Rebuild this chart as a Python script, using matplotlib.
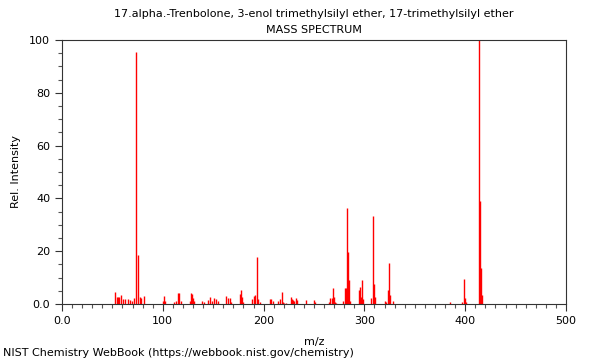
import matplotlib

matplotlib.use("Agg")
import matplotlib.pyplot as plt
from matplotlib.ticker import MultipleLocator, FuncFormatter

TITLE = "17.alpha.-Trenbolone, 3-enol trimethylsilyl ether, 17-trimethylsilyl ether"
FOOTER = "NIST Chemistry WebBook (https://webbook.nist.gov/chemistry)"

# m/z and relative intensity
mz = [
    53, 55, 56, 57, 59, 61, 63, 65, 67, 69, 71, 73, 75, 77, 78, 81,
    100, 101, 102, 111, 113, 115, 116, 118, 127, 128, 129, 130, 131,
    139, 141, 145, 147, 149, 151, 153, 155, 163, 165, 167, 168,
    177, 178, 179, 180, 189, 190, 191, 193, 194, 196,
    206, 207, 209, 214, 216, 218, 219, 220, 222,
    227, 228, 229, 230, 232, 233, 242, 250, 251,
    265, 266, 268, 269, 270, 271, 272,
    279, 281, 282, 283, 284, 285, 286,
    295, 296, 297, 298, 299, 307, 309, 310, 311,
    320, 321, 323, 324, 325, 328,
    385, 397, 399, 400, 401, 414, 415, 416, 417,
]
intensity = [
    4.6, 2.5, 2.5, 2.5, 3.4, 2.0, 1.8, 1.9, 1.5, 1.2, 2.2, 95.3, 18.7, 2.8, 2.2, 3.0,
    1.0, 3.1, 1.2, 0.8, 1.2, 4.2, 4.2, 1.2, 1.2, 4.0, 3.6, 2.2, 1.2,
    1.2, 0.8, 1.5, 2.7, 1.0, 2.2, 1.8, 1.2, 3.1, 2.1, 2.1, 0.6,
    3.8, 5.4, 2.8, 0.6, 1.8, 3.0, 3.4, 17.9, 1.8, 0.6,
    1.8, 2.0, 1.0, 1.0, 1.8, 4.4, 0.6, 0.5, 0.5,
    2.8, 2.0, 1.6, 1.2, 2.2, 1.6, 1.6, 1.6, 0.8,
    0.9, 2.2, 2.4, 6.2, 2.8, 0.8, 0.4,
    1.3, 5.9, 5.9, 36.4, 19.8, 9.2, 1.0,
    5.4, 6.3, 2.8, 9.1, 2.0, 2.3, 33.2, 7.6, 2.8,
    1.3, 0.8, 5.4, 15.4, 3.5, 1.3,
    0.6, 0.6, 9.3, 2.2, 0.6, 100.0, 38.9, 13.8, 3.3,
]

plt.rcParams["font.family"] = "DejaVu Sans"
plt.rcParams["font.size"] = 8

fig = plt.figure(figsize=(6.0, 3.6), dpi=100)
ax = fig.add_axes([0.1033, 0.1556, 0.84, 0.7333])

ax.vlines(mz, 0, intensity, colors="#ff0000", linewidth=1.0)

ax.set_xlim(0, 500)
ax.set_ylim(0, 100)
ax.xaxis.set_major_locator(MultipleLocator(100))
ax.xaxis.set_minor_locator(MultipleLocator(10))
ax.yaxis.set_major_locator(MultipleLocator(20))
ax.yaxis.set_minor_locator(MultipleLocator(5))
zero_fmt = FuncFormatter(lambda v, _pos: "0.0" if v == 0 else f"{v:g}")
ax.xaxis.set_major_formatter(zero_fmt)
ax.yaxis.set_major_formatter(zero_fmt)
ax.tick_params(which="major", length=5, width=0.8, color="#333333")
ax.tick_params(which="minor", length=3, width=0.8, color="#555555")
for sp in ax.spines.values():
    sp.set_color("#333333")
    sp.set_linewidth(0.8)

ax.set_xlabel("m/z", labelpad=8)
ax.set_ylabel("Rel. Intensity", labelpad=6)

# titles are centred over the plot area, not the figure
cx = 0.1033 + 0.84 / 2
fig.text(cx, 0.961, TITLE, ha="center", va="center")
fig.text(cx, 0.916, "MASS SPECTRUM", ha="center", va="center")
fig.text(0.005, 0.019, FOOTER, ha="left", va="center")

fig.savefig("out.png", dpi=100)
